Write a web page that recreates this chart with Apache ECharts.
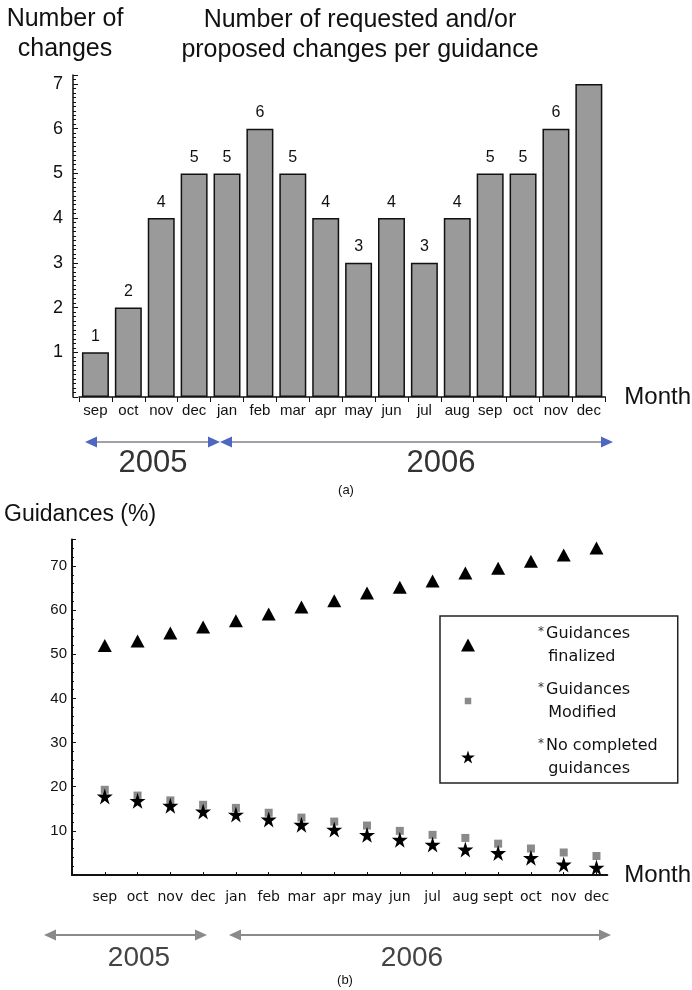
<!DOCTYPE html>
<html><head><meta charset="utf-8">
<script src="https://cdn.jsdelivr.net/npm/echarts@6/dist/echarts.min.js"></script>
<style>html,body{margin:0;padding:0;background:#fff}#c{width:692px;height:990px}</style>
</head><body><div id="c"></div>
<script>
// ---- data ----
const monthsA = ['sep','oct','nov','dec','jan','feb','mar','apr','may','jun','jul','aug','sep','oct','nov','dec'];
const changes = [1,2,4,5,5,6,5,4,3,4,3,4,5,5,6,7];
const monthsB = ['sep','oct','nov','dec','jan','feb','mar','apr','may','jun','jul','aug','sept','oct','nov','dec'];
const finalized = [52.0,53.0,54.8,56.2,57.6,59.1,60.7,62.1,63.9,65.2,66.6,68.4,69.5,71.1,72.5,74.1];
const modified = [19.3,18.0,16.9,15.9,15.2,14.1,13.0,12.1,11.2,10.0,9.1,8.4,7.1,6.0,5.1,4.3];
const noCompleted = [17.8,16.8,15.7,14.4,13.7,12.6,11.4,10.3,9.1,8.0,6.9,5.8,5.0,3.9,2.4,1.7];
const seriesNames = ['Guidances finalized','Guidances Modified','No completed guidances'];
const legendLabels = ['{a|*}Guidances\n  finalized','{a|*}Guidances\n  Modified','{a|*}No completed\n  guidances'];

const SANS = "'Liberation Sans', Arial, sans-serif";
const DJ = "'DejaVu Sans', sans-serif";
const starPath = 'path://M50,0 L61,35 L98,35 L68,57 L79,91 L50,70 L21,91 L32,57 L2,35 L39,35 Z';
const smallSquare = 'path://M0,0 M14,14 M3.5,3.5 L10.5,3.5 L10.5,10.5 L3.5,10.5 Z';

function arrow(x1, x2, y, lineColor, headColor, lw) {
  const hl = 12, hh = 5.5;
  return [
    {type:'line', shape:{x1:x1+4, y1:y, x2:x2-4, y2:y}, style:{stroke:lineColor, lineWidth:lw}, silent:true},
    {type:'polygon', shape:{points:[[x1,y],[x1+hl,y-hh],[x1+hl,y+hh]]}, style:{fill:headColor}, silent:true},
    {type:'polygon', shape:{points:[[x2,y],[x2-hl,y-hh],[x2-hl,y+hh]]}, style:{fill:headColor}, silent:true}
  ];
}
function txt(text, x, y, font, fill, lh) {
  return {type:'text', x:x, y:y, silent:true,
    style:{text:text, font:font, fill:fill||'#111', lineHeight:lh||undefined, align:'center', verticalAlign:'middle', textAlign:'center', textVerticalAlign:'middle'}};
}

const chart = echarts.init(document.getElementById('c'), null, {renderer:'canvas'});
const option = {
  backgroundColor:'#fff',
  animation:false,
  grid:[
    {left:79, right:86, top:75, bottom:593},
    {left:72, right:83, top:539.5, bottom:115}
  ],
  xAxis:[
    {type:'category', gridIndex:0, data:monthsA, boundaryGap:true,
     axisLine:{lineStyle:{color:'#111', width:1.5}},
     axisTick:{show:true, length:5, lineStyle:{color:'#111'}},
     axisLabel:{interval:0, margin:6, fontSize:15, fontFamily:SANS, color:'#111'},
     name:'Month', nameLocation:'end', nameGap:19,
     nameTextStyle:{fontSize:24, fontFamily:SANS, color:'#111', align:'left', verticalAlign:'middle'}},
    {type:'value', gridIndex:1, min:0, max:16.33, interval:1,
     axisLine:{onZero:false, lineStyle:{color:'#111', width:2}},
     axisTick:{show:true, inside:true, length:3, lineStyle:{color:'#111'}},
     splitLine:{show:false},
     axisLabel:{margin:15, fontSize:14, fontFamily:DJ, color:'#111', showMaxLabel:false,
       formatter:function(v){ return (Number.isInteger(v) && v>=1 && v<=monthsB.length) ? monthsB[v-1] : ''; }},
     name:'Month', nameLocation:'end', nameGap:17,
     nameTextStyle:{fontSize:24, fontFamily:SANS, color:'#111', align:'left', verticalAlign:'middle'}}
  ],
  yAxis:[
    {type:'value', gridIndex:0, min:0, max:7.2, interval:1, offset:6,
     axisLine:{show:true, lineStyle:{color:'#111', width:1.5}},
     axisTick:{show:true, inside:true, length:5, lineStyle:{color:'#111'}},
     minorTick:{show:true, splitNumber:10, length:3, lineStyle:{color:'#111'}},
     splitLine:{show:false},
     axisLabel:{showMinLabel:false, showMaxLabel:false, margin:10, fontSize:18, fontFamily:SANS, color:'#111'}},
    {type:'value', gridIndex:1, min:0, max:76, interval:10,
     axisLine:{show:true, onZero:false, lineStyle:{color:'#111', width:2}},
     axisTick:{show:true, inside:true, length:4, lineStyle:{color:'#111'}},
     minorTick:{show:true, splitNumber:5, length:2, lineStyle:{color:'#111'}},
     splitLine:{show:false},
     axisLabel:{showMinLabel:false, showMaxLabel:false, margin:5, fontSize:15, fontFamily:SANS, color:'#111'}}
  ],
  legend:{
    orient:'vertical', left:440, top:616, padding:[6,20,3,21], itemGap:10,
    itemWidth:14, itemHeight:13, borderColor:'#222', borderWidth:1.5,
    data:[
      {name:seriesNames[0], icon:'triangle'},
      {name:seriesNames[1], icon:smallSquare},
      {name:seriesNames[2], icon:starPath}
    ],
    formatter:function(n){ return legendLabels[seriesNames.indexOf(n)]; },
    textStyle:{fontFamily:DJ, fontSize:16, lineHeight:23, color:'#111', padding:[0,0,0,58],
      rich:{a:{fontFamily:DJ, fontSize:12, lineHeight:23, color:'#333', padding:[0,2,4,0]}}}
  },
  series:[
    {type:'bar', xAxisIndex:0, yAxisIndex:0, data:changes, barCategoryGap:'18%',
     itemStyle:{color:'#9a9a9a', borderColor:'#111', borderWidth:1.5},
     label:{show:true, position:'top', distance:8, fontSize:16, fontFamily:SANS, color:'#111',
       formatter:function(p){ return p.value >= 7 ? '' : p.value; }}},
    {type:'scatter', name:seriesNames[1], xAxisIndex:1, yAxisIndex:1,
     data:modified.map(function(v,i){return [i+1, v];}), symbol:'rect', symbolSize:8,
     itemStyle:{color:'#8a8a8a', opacity:1}},
    {type:'scatter', name:seriesNames[2], xAxisIndex:1, yAxisIndex:1,
     data:noCompleted.map(function(v,i){return [i+1, v];}), symbol:starPath, symbolSize:16,
     itemStyle:{color:'#000', opacity:1}},
    {type:'scatter', name:seriesNames[0], xAxisIndex:1, yAxisIndex:1,
     data:finalized.map(function(v,i){return [i+1, v];}), symbol:'triangle', symbolSize:[14,13],
     itemStyle:{color:'#000', opacity:1}}
  ],
  graphic:[].concat(
    [txt('Number of\nchanges', 65, 34, 'normal 25px ' + SANS, '#111', 30)],
    [txt('Number of requested and/or\nproposed changes per guidance', 360, 35, 'normal 25px ' + SANS, '#111', 30)],
    arrow(85, 220, 442, '#a0a0a8', '#4e68c2', 2),
    arrow(220, 613, 442, '#a0a0a8', '#4e68c2', 2),
    [txt('2005', 153, 463, 'normal 31px ' + SANS, '#333')],
    [txt('2006', 441, 463, 'normal 31px ' + SANS, '#333')],
    [txt('(a)', 346, 490, 'normal 13px ' + SANS, '#111')],
    [{type:'text', x:4, y:515, silent:true, style:{text:'Guidances (%)', font:'normal 23px ' + SANS, fill:'#111', align:'left', verticalAlign:'middle', textAlign:'left', textVerticalAlign:'middle'}}],
    arrow(44, 207, 935, '#8a8a8a', '#8a8a8a', 2),
    arrow(229, 611, 935, '#8a8a8a', '#8a8a8a', 2),
    [txt('2005', 139, 958, 'normal 28px ' + SANS, '#444')],
    [txt('2006', 412, 958, 'normal 28px ' + SANS, '#444')],
    [txt('(b)', 345, 980, 'normal 13px ' + SANS, '#111')]
  )
};
chart.setOption(option);
</script>
</body></html>
